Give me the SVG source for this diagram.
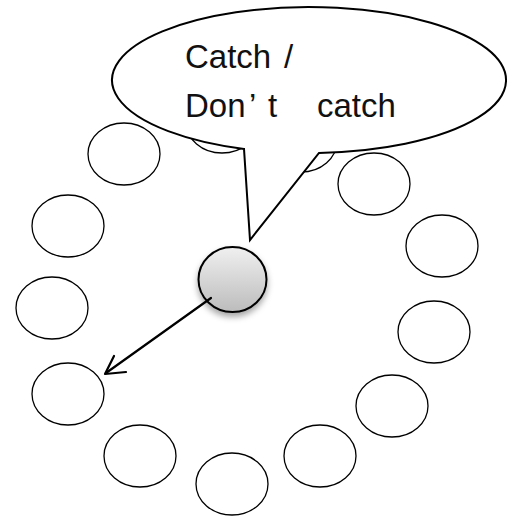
<svg xmlns="http://www.w3.org/2000/svg" width="516" height="518" viewBox="0 0 516 518">
<style>
.p{fill:#fff;stroke:#000;stroke-width:1.3}
.t{font-family:"Liberation Sans","Noto Sans",sans-serif;font-size:33px;fill:#111}
</style>
<defs>
<linearGradient id="g" x1="0" y1="0" x2="0" y2="1">
<stop offset="0" stop-color="#f0f0f0"/>
<stop offset="1" stop-color="#bcbcbc"/>
</linearGradient>
<filter id="sh" x="-30%" y="-30%" width="160%" height="170%">
<feDropShadow dx="0" dy="4" stdDeviation="3" flood-color="#000" flood-opacity="0.35"/>
</filter>
</defs>
<rect width="516" height="518" fill="#fff"/>
<g id="players">
<ellipse id="p12" class="p" cx="222" cy="122" rx="36" ry="31"/>
<ellipse id="p13" class="p" cx="301" cy="141" rx="36" ry="31"/>
<ellipse id="p1" class="p" cx="124" cy="154" rx="36" ry="31"/>
<ellipse id="p2" class="p" cx="68" cy="226" rx="36" ry="31"/>
<ellipse id="p3" class="p" cx="52" cy="308" rx="36" ry="31"/>
<ellipse id="p4" class="p" cx="68" cy="394" rx="36" ry="31"/>
<ellipse id="p5" class="p" cx="140" cy="456" rx="36" ry="31"/>
<ellipse id="p6" class="p" cx="232" cy="484" rx="36" ry="31"/>
<ellipse id="p7" class="p" cx="320" cy="456" rx="36" ry="31"/>
<ellipse id="p8" class="p" cx="392" cy="406" rx="36" ry="31"/>
<ellipse id="p9" class="p" cx="434" cy="332" rx="36" ry="31"/>
<ellipse id="p10" class="p" cx="442" cy="246" rx="36" ry="31"/>
<ellipse id="p11" class="p" cx="374" cy="184" rx="36" ry="31"/>
</g>
<g id="bubble">
<path d="M 319 153 A 197 73 0 1 0 244 149 L 250 240 Z" fill="#fff" stroke="#000" stroke-width="2" stroke-linejoin="miter"/>
<text class="t" y="68"><tspan x="185">Catch </tspan><tspan x="284">/</tspan></text>
<text class="t" y="117"><tspan x="185">Don</tspan><tspan x="249">’ </tspan><tspan x="268">t </tspan><tspan x="317">catch</tspan></text>
</g>
<g id="ball">
<ellipse cx="232.5" cy="279.5" rx="34" ry="32.5" fill="url(#g)" stroke="#000" stroke-width="2" filter="url(#sh)"/>
</g>
<g id="connectors" fill="none" stroke="#000" stroke-width="2.2" stroke-linecap="round" stroke-linejoin="round">
<line x1="211" y1="298" x2="106" y2="373"/>
<polyline points="114,356 105,374 126,372"/>
</g>
</svg>
